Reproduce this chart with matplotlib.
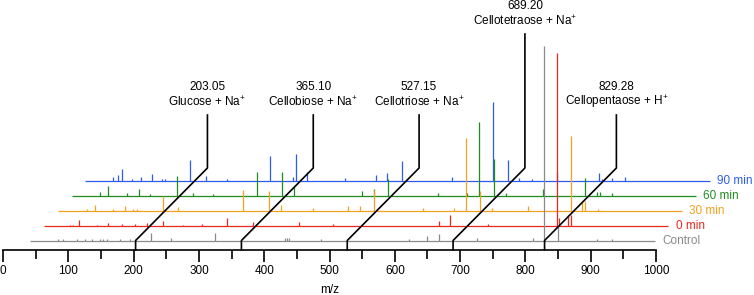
import numpy as np
import matplotlib.pyplot as plt

plt.rcParams['font.family'] = ['Liberation Sans', 'DejaVu Sans']
plt.rcParams['mathtext.fontset'] = 'custom'
plt.rcParams['mathtext.rm'] = 'Liberation Sans'
plt.rcParams['mathtext.it'] = 'Liberation Sans:italic'

# spectra, bottom to top; peaks as m/z and height (arbitrary units)
names = ['Control', '0 min', '30 min', '60 min', '90 min']
colors = ['#8a8a8a', '#e8281c', '#f5a01e', '#1f8c1f', '#2d5ded']

control_mz = [84.7, 92.4, 112.9, 125.6, 135.8, 148.5, 153.6, 158.8, 179.2, 194.5,
              226.6, 257.3, 324.7, 432.5, 434.9, 437.5, 486.5, 621.7, 648.9, 667.7,
              725.4, 811.2, 829.0, 850.4, 909.2, 932.2]
control_h = [1.5, 1.5, 1.5, 1.5, 1.5, 1.5, 1.5, 1.5, 1.5, 1.5,
             8, 3, 8, 3, 3, 3, 2, 2, 5, 7,
             3, 3, 195, 15, 2, 2]

min0_mz = [81.6, 86.7, 95.8, 122.5, 139.8, 160.8, 181.0, 199.1, 223.6, 255.0,
           283.3, 322.0, 362.3, 431.8, 484.8, 646.2, 664.0, 721.7, 828.0, 831.0,
           843.5, 848.4]
min0_h = [1, 1, 6, 1, 3, 1.5, 1.5, 3, 5, 1,
          1.5, 8, 4, 4, 1.5, 5, 11, 2, 173, 8,
          11, 11]

min30_mz = [86.2, 98.9, 126.9, 144.8, 157.6, 162.7, 202.6, 226.5, 325.1, 364.9,
            383.3, 432.7, 485.9, 504.3, 526.2, 601.2, 648.7, 666.3, 688.5, 706.4,
            762.0, 827.8, 845.1, 849.3, 868.4]
min30_h = [2, 6, 1.5, 5, 2, 2, 15, 4, 20.5, 20,
           6, 3, 4.5, 4.5, 20.5, 3, 3, 73, 20, 3,
           4.5, 74.5, 10, 10, 2]

min60_mz = [84.8, 98.3, 126.4, 144.8, 162.1, 203.0, 227.5, 258.6, 325.2, 364.7,
            382.6, 486.8, 505.2, 527.0, 602.4, 647.1, 666.4, 688.2, 707.3, 764.4,
            828.3, 846.7, 851.3, 869.2]
min60_h = [4, 9.5, 3, 7, 2, 19.5, 3, 1.5, 24, 24,
           9, 5, 7, 16.5, 3, 3, 74, 37, 3, 7,
           17.5, 3.5, 4, 3]

min90_mz = [84.9, 91.7, 98.7, 113.1, 126.6, 143.7, 159.0, 164.1, 201.9, 226.9,
            259.0, 324.9, 359.6, 364.7, 382.0, 439.7, 487.2, 504.5, 526.6, 603.1,
            666.7, 688.6, 706.7, 725.3, 763.9, 827.9, 832.8, 848.2, 868.5]
min90_h = [4, 6, 11.5, 2, 4, 7, 2, 2, 21, 5,
           2, 25, 4, 27, 8.5, 3, 6, 8, 19.5, 4,
           79, 20.5, 3, 2, 8.5, 7.5, 2, 3, 4]

traces = [(control_mz, control_h), (min0_mz, min0_h), (min30_mz, min30_h),
          (min60_mz, min60_h), (min90_mz, min90_h)]

ann_mz = [203.05, 365.10, 527.15, 689.20, 829.28]
ann_names = ['Glucose + Na$^{+}$', 'Cellobiose + Na$^{+}$', 'Cellotriose + Na$^{+}$',
             'Cellotetraose + Na$^{+}$', 'Cellopentaose + H$^{+}$']

fig = plt.figure(figsize=(7.54, 2.95), dpi=100)
ax = fig.add_axes([0, 0, 1, 1])
ax.set_xlim(-4.6, 1150)
ax.set_ylim(-45, 250)

fs = 8.5
dx = 21.0   # shift of each trace along m/z
dy = 14.9   # vertical shift of each trace
for i, ((mz, h), name, c) in enumerate(zip(traces, names, colors)):
    x0 = i * dx
    y0 = 9.5 + i * dy
    ax.hlines(y0, 42 + x0, 998 + x0, color=c, lw=0.9, zorder=10 - i)
    ax.vlines(np.array(mz) + x0, y0, y0 + np.array(h), color=c, lw=0.9, zorder=10 - i)
    ax.text(1009 + x0, y0, name, color=c, ha='left', va='center', fontsize=fs)

# label lines
for mz, lab in zip(ann_mz, ann_names):
    top = 216 if mz == 689.20 else 135
    ax.plot([mz, mz, mz + 110, mz + 110], [0, 9.5, 82, top], color='k', lw=1.2, zorder=20)
    ax.text(mz + 110, top + 13, lab, ha='center', va='center', fontsize=fs)
    ax.text(mz + 110, top + 28, f'{mz:.2f}', ha='center', va='center', fontsize=fs)

for s in ['top', 'left', 'right']:
    ax.spines[s].set_visible(False)
ax.spines['bottom'].set_position(('data', 0))
ax.spines['bottom'].set_bounds(0, 1000)
ax.spines['bottom'].set_linewidth(1.2)
ax.set_xticks(np.arange(0, 1001, 100))
ax.set_xticks(np.arange(50, 1000, 100), minor=True)
ax.tick_params(axis='x', which='major', direction='out', length=8.5, width=1.2,
               pad=2, labelsize=fs)
ax.tick_params(axis='x', which='minor', direction='out', length=6.5, width=1.2)
ax.set_yticks([])
ax.text(500, -40, 'm/z', ha='center', va='center', fontsize=fs)

plt.savefig('out.png', dpi=100)
